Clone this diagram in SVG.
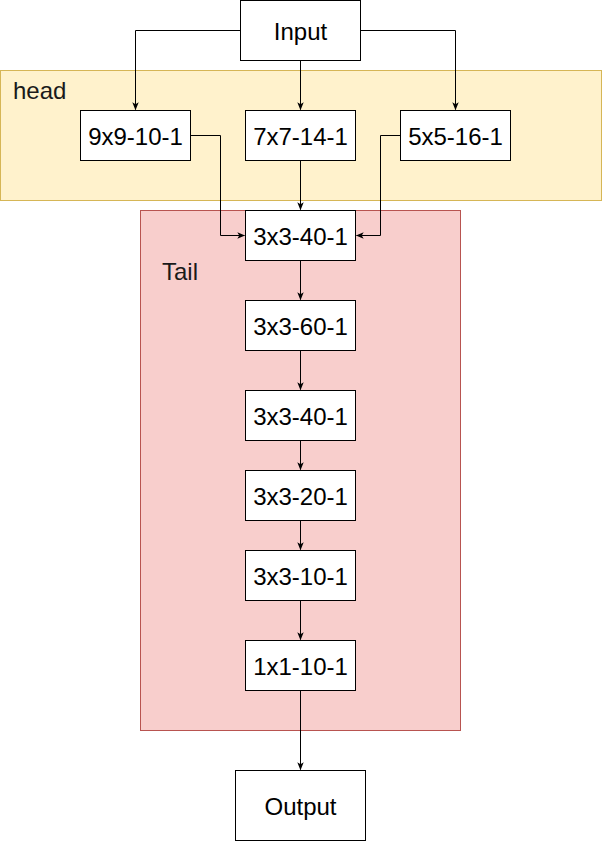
<svg xmlns="http://www.w3.org/2000/svg" width="602" height="842" viewBox="0 0 602 842">
<style>
.node rect{fill:#ffffff;stroke:#000000;stroke-width:1}
.node text{font-family:"Liberation Sans",Arial,sans-serif;font-size:24px;fill:#000000;text-anchor:middle;dominant-baseline:central}
.lbl{font-family:"Liberation Sans",Arial,sans-serif;font-size:24px;fill:#1a1a1a}
.edge{fill:none;stroke:#000000;stroke-width:1}
</style>
<defs>
<marker id="arr" viewBox="0 0 10 10" refX="9" refY="5" markerWidth="8" markerHeight="8" markerUnits="userSpaceOnUse" orient="auto">
<path d="M0,1 L10,5 L0,9 L2.5,5 Z" fill="#000000"/>
</marker>
</defs>
<g id="head-group">
<rect x="0.5" y="70.5" width="601" height="130" fill="#fff2cc" stroke="#d6b656"/>
<text class="lbl" x="13" y="99">head</text>
</g>
<g id="tail-group">
<rect x="140.5" y="210.5" width="320" height="520" fill="#f8cecc" stroke="#b85450"/>
<text class="lbl" x="162" y="280">Tail</text>
</g>
<g id="connectors">
<path class="edge" d="M240.5,30.5 H135.5 V109.5" marker-end="url(#arr)"/>
<path class="edge" d="M300.5,60.5 V109.5" marker-end="url(#arr)"/>
<path class="edge" d="M360.5,30.5 H455.5 V109.5" marker-end="url(#arr)"/>
<path class="edge" d="M190.5,135.5 H220.5 V235.5 H244.5" marker-end="url(#arr)"/>
<path class="edge" d="M300.5,160.5 V209.5" marker-end="url(#arr)"/>
<path class="edge" d="M400.5,135.5 H380.5 V235.5 H356.5" marker-end="url(#arr)"/>
<path class="edge" d="M300.5,260.5 V299.5" marker-end="url(#arr)"/>
<path class="edge" d="M300.5,350.5 V389.5" marker-end="url(#arr)"/>
<path class="edge" d="M300.5,440.5 V469.5" marker-end="url(#arr)"/>
<path class="edge" d="M300.5,520.5 V549.5" marker-end="url(#arr)"/>
<path class="edge" d="M300.5,600.5 V639.5" marker-end="url(#arr)"/>
<path class="edge" d="M300.5,690.5 V769.5" marker-end="url(#arr)"/>
</g>
<g id="input" class="node"><rect x="240.5" y="0.5" width="120" height="60"/><text x="300.5" y="31">Input</text></g>
<g id="n9x9" class="node"><rect x="80.5" y="110.5" width="110" height="50"/><text x="135.5" y="136">9x9-10-1</text></g>
<g id="n7x7" class="node"><rect x="245.5" y="110.5" width="110" height="50"/><text x="300.5" y="136">7x7-14-1</text></g>
<g id="n5x5" class="node"><rect x="400.5" y="110.5" width="110" height="50"/><text x="455.5" y="136">5x5-16-1</text></g>
<g id="t1" class="node"><rect x="245.5" y="210.5" width="110" height="50"/><text x="300.5" y="236">3x3-40-1</text></g>
<g id="t2" class="node"><rect x="245.5" y="300.5" width="110" height="50"/><text x="300.5" y="326">3x3-60-1</text></g>
<g id="t3" class="node"><rect x="245.5" y="390.5" width="110" height="50"/><text x="300.5" y="416">3x3-40-1</text></g>
<g id="t4" class="node"><rect x="245.5" y="470.5" width="110" height="50"/><text x="300.5" y="496">3x3-20-1</text></g>
<g id="t5" class="node"><rect x="245.5" y="550.5" width="110" height="50"/><text x="300.5" y="576">3x3-10-1</text></g>
<g id="t6" class="node"><rect x="245.5" y="640.5" width="110" height="50"/><text x="300.5" y="666">1x1-10-1</text></g>
<g id="output" class="node"><rect x="235.5" y="770.5" width="130" height="70"/><text x="300.5" y="806">Output</text></g>
</svg>
